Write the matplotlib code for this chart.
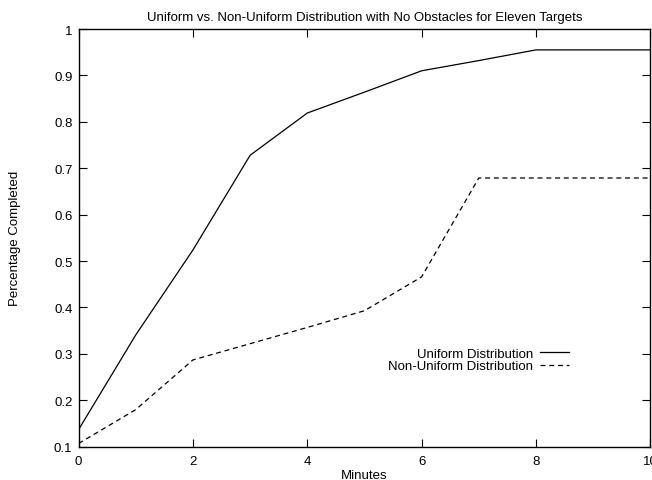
import matplotlib
matplotlib.use("Agg")
import matplotlib.pyplot as plt

plt.rcParams['font.family'] = ['Liberation Sans', 'DejaVu Sans']

minutes = [0, 1, 2, 3, 4, 5, 6, 7, 8, 9, 10]
uniform = [0.137, 0.341, 0.524, 0.728, 0.819, 0.864, 0.910, 0.932, 0.955, 0.955, 0.955]
non_uniform = [0.107, 0.180, 0.287, 0.322, 0.357, 0.393, 0.466, 0.679, 0.679, 0.679, 0.679]

xticks = [0, 2, 4, 6, 8, 10]
yticks = [0.1, 0.2, 0.3, 0.4, 0.5, 0.6, 0.7, 0.8, 0.9, 1.0]
ytick_labels = ["0.1", "0.2", "0.3", "0.4", "0.5", "0.6", "0.7", "0.8", "0.9", "1"]

title = "Uniform vs. Non-Uniform Distribution with No Obstacles for Eleven Targets"
fs = 9.5

fig = plt.figure(figsize=(6.52, 4.81), dpi=100)
ax = fig.add_axes([0.1206, 0.0692, 0.8768, 0.8684])

ax.plot(minutes, uniform, color='black', lw=0.9, label="Uniform Distribution")
ax.plot(minutes, non_uniform, color='black', lw=0.9, linestyle=(0, (4, 3)),
        label="Non-Uniform Distribution")

ax.set_xlim(0, 10)
ax.set_ylim(0.1, 1.0)
ax.set_xticks(xticks)
ax.set_xticklabels([str(t) for t in xticks])
ax.set_yticks(yticks)
ax.set_yticklabels(ytick_labels)
ax.tick_params(direction='in', length=6, width=0.8, top=True, right=True,
               labelsize=fs, colors='black')
ax.tick_params(axis='x', pad=6)
ax.tick_params(axis='y', pad=4.5)
for s in ax.spines.values():
    s.set_linewidth(1.0)

ax.set_title(title, fontsize=fs, pad=6.5)
ax.set_xlabel("Minutes", fontsize=fs, labelpad=1.5)
ax.set_ylabel("Percentage Completed", fontsize=fs, labelpad=24)

ax.legend(loc='center right', bbox_to_anchor=(0.857, 0.208), frameon=False,
          markerfirst=False, fontsize=fs, handlelength=2.2, handletextpad=0.5,
          labelspacing=0.05, borderpad=0, borderaxespad=0)

fig.savefig("out.png", dpi=100)
